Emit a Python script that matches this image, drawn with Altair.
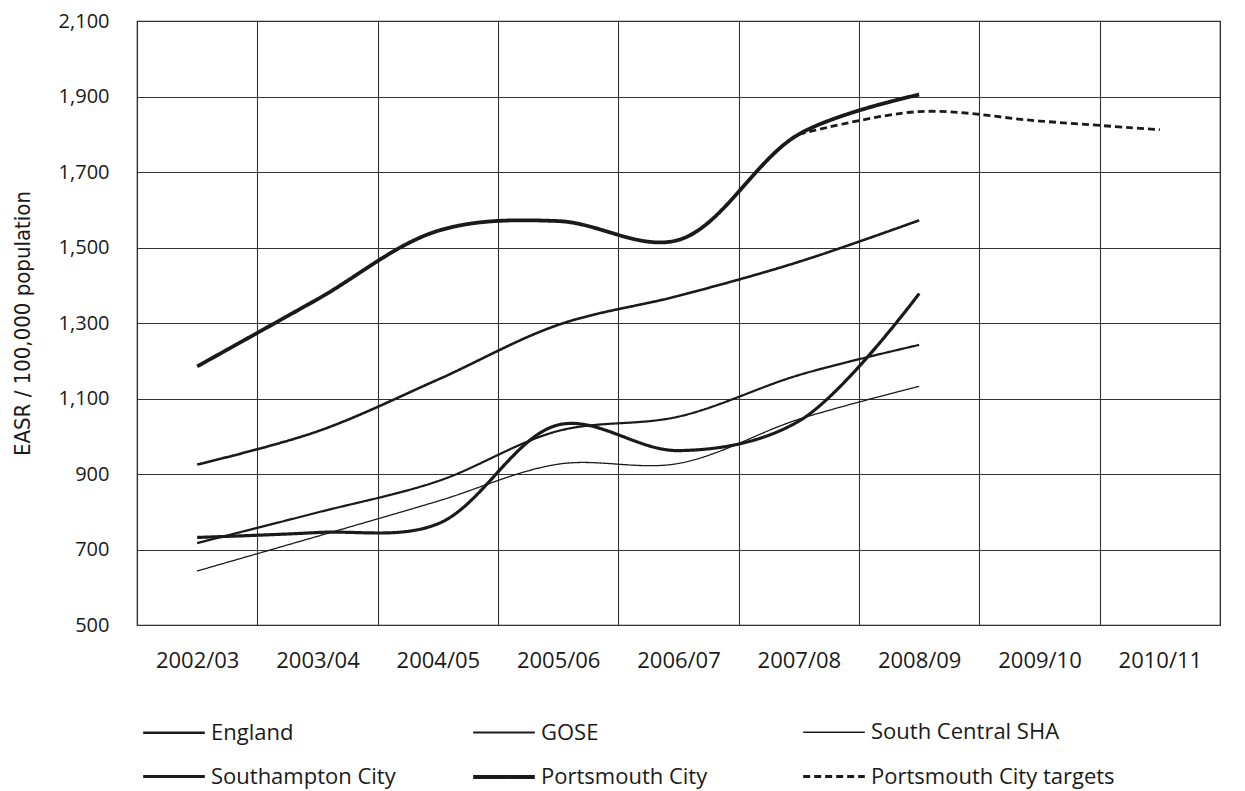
import altair as alt
import pandas as pd

years = ["2002/03", "2003/04", "2004/05", "2005/06", "2006/07",
         "2007/08", "2008/09", "2009/10", "2010/11"]
series_order = ["England", "GOSE", "South Central SHA",
                "Southampton City", "Portsmouth City", "Portsmouth City targets"]

england = [925, 1013, 1150, 1295, 1372, 1462, 1572]
gose = [717, 798, 881, 1014, 1052, 1162, 1242]
south_central = [643, 735, 828, 926, 928, 1045, 1132]
southampton = [732, 745, 768, 1030, 962, 1040, 1378]
portsmouth = [1185, 1363, 1544, 1570, 1520, 1800, 1905]
target_years = ["2007/08", "2008/09", "2009/10", "2010/11"]
portsmouth_targets = [1800, 1860, 1835, 1812]

rows = []
for name, vals in [("England", england), ("GOSE", gose),
                   ("South Central SHA", south_central),
                   ("Southampton City", southampton),
                   ("Portsmouth City", portsmouth)]:
    for y, v in zip(years, vals):
        rows.append({"year": y, "value": v, "series": name})
for y, v in zip(target_years, portsmouth_targets):
    rows.append({"year": y, "value": v, "series": "Portsmouth City targets"})
df = pd.DataFrame(rows)

FONT = "Open Sans"
TITLE_FONT = "Liberation Sans Narrow, DejaVu Sans Condensed, Open Sans"
INK = "#1a1a1a"

chart = alt.Chart(df).mark_line(interpolate="catmull-rom").encode(
    x=alt.X("year:O",
            scale=alt.Scale(type="band", domain=years, paddingInner=0, paddingOuter=0),
            bandPosition=0.5,
            axis=alt.Axis(title=None, labelAngle=0, tickBand="extent", ticks=False,
                          domain=False, grid=True, gridColor="#333333", gridWidth=1.1,
                          labelPadding=25, labelFontSize=22, labelFont=FONT,
                          labelColor=INK)),
    y=alt.Y("value:Q",
            scale=alt.Scale(domain=[500, 2100], nice=False, zero=False),
            axis=alt.Axis(title="EASR / 100,000 population", values=list(range(500, 2101, 200)),
                          format=",.0f", ticks=False, domain=False, grid=True,
                          gridColor="#333333", gridWidth=1.1,
                          labelPadding=28, labelFontSize=20, labelFont=FONT,
                          labelColor=INK, titleFont=TITLE_FONT, titleFontSize=22,
                          titleFontWeight="normal", titleColor=INK, titlePadding=24)),
    color=alt.Color("series:O",
                    scale=alt.Scale(domain=series_order, range=[INK] * 6),
                    sort=series_order, legend=alt.Legend(title=None)),
    strokeDash=alt.StrokeDash("series:O",
                              scale=alt.Scale(domain=series_order,
                                              range=[[1, 0]] * 5 + [[7, 4]]),
                              sort=series_order, legend=alt.Legend(title=None)),
    strokeWidth=alt.StrokeWidth("series:O",
                                scale=alt.Scale(type="ordinal", domain=series_order,
                                                range=[2.6, 2.2, 1.3, 3.2, 3.8, 2.8]),
                                sort=series_order, legend=alt.Legend(title=None)),
    order=alt.Order("year:O"),
).properties(
    width=1083, height=604,
    autosize=alt.AutoSizeParams(type="none"),
    padding={"left": 129, "top": 13, "right": 10, "bottom": 168},
).configure_view(
    stroke="#2a2a2a", strokeWidth=1.2
).configure_legend(
    orient="none", legendX=4, legendY=679, columns=3, direction="horizontal",
    gridAlign="all", columnPadding=10, rowPadding=-26,
    symbolType="stroke", symbolSize=3800, labelFont=FONT, labelFontSize=22,
    labelColor=INK, labelOffset=4, labelLimit=400, symbolStrokeColor=INK
)

chart.save("out.html", embed_options={"renderer": "svg", "actions": False})
